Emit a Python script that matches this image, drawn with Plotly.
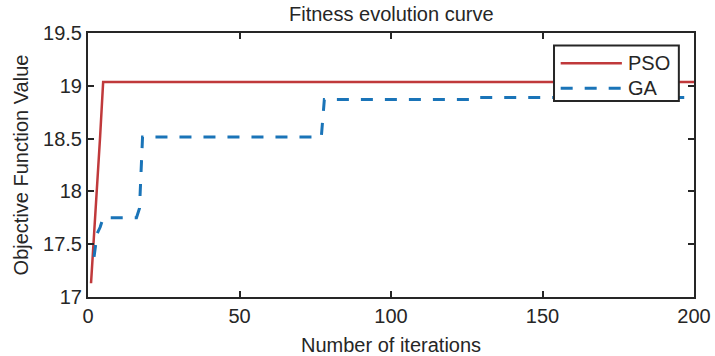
import plotly.graph_objects as go

# PSO fitness per iteration (breakpoints; constant afterwards)
pso_x = [1, 2, 3, 4, 5, 200]
pso_y = [17.13, 17.57, 18.02, 18.52, 19.035, 19.035]

# GA fitness per iteration (step-wise)
ga_x = [2, 3, 4, 5, 16, 17, 18, 77, 78, 128, 129, 200]
ga_y = [17.38, 17.6, 17.66, 17.75, 17.75, 17.84, 18.515, 18.515, 18.87, 18.87, 18.89, 18.89]

series_names = ["PSO", "GA"]
x_ticks = [0, 50, 100, 150, 200]
y_ticks = [17, 17.5, 18, 18.5, 19, 19.5]
y_labels = ["17", "17.5", "18", "18.5", "19", "19.5"]

font = "Liberation Sans, Arial, sans-serif"
ink = "#262626"
pso_color = "#C0393B"
ga_color = "#1A74B8"
ga_dash = "12px,12px"

fig = go.Figure()
fig.add_trace(go.Scatter(x=pso_x, y=pso_y, mode="lines", name=series_names[0],
                         line=dict(color=pso_color, width=2.5), showlegend=False))
fig.add_trace(go.Scatter(x=ga_x, y=ga_y, mode="lines", name=series_names[1],
                         line=dict(color=ga_color, width=3, dash=ga_dash),
                         showlegend=False))

axis_common = dict(showline=True, linecolor=ink, linewidth=2, mirror="ticks",
                   ticks="inside", ticklen=6, tickwidth=2, tickcolor=ink,
                   showgrid=False, zeroline=False,
                   tickfont=dict(family=font, size=20, color=ink))

# legend box (drawn manually to mimic MATLAB's legend)
lx0, lx1, ly0, ly1 = 0.769, 0.975, 0.742, 0.953
row_y = [0.885, 0.791]
shapes = [dict(type="rect", xref="paper", yref="paper", x0=lx0, x1=lx1, y0=ly0, y1=ly1,
               line=dict(color=ink, width=2), fillcolor="white", layer="above")]
annotations = [
    dict(text="Fitness evolution curve", xref="paper", yref="paper",
         x=0.5, y=1, xanchor="center", yanchor="bottom", yshift=6,
         showarrow=False, font=dict(family=font, size=20, color=ink)),
    dict(text="Number of iterations", xref="paper", yref="paper",
         x=0.5, y=0, xanchor="center", yanchor="top", yshift=-35,
         showarrow=False, font=dict(family=font, size=20, color=ink)),
]
styles = [dict(color=pso_color, width=2.5), dict(color=ga_color, width=3, dash=ga_dash)]
for name, yy, st in zip(series_names, row_y, styles):
    shapes.append(dict(type="line", xref="paper", yref="paper", x0=0.780, x1=0.881,
                       y0=yy, y1=yy, line=st, layer="above"))
    annotations.append(dict(text=name, xref="paper", yref="paper", x=0.887, y=yy,
                            xanchor="left", yanchor="middle", showarrow=False,
                            font=dict(family=font, size=20, color=ink)))

fig.update_layout(
    width=715, height=356,
    margin=dict(l=88, r=21, t=33, b=59, autoexpand=False),
    paper_bgcolor="white", plot_bgcolor="white",
    xaxis=dict(range=[0, 200], tickvals=x_ticks, **axis_common),
    yaxis=dict(range=[17, 19.5], tickvals=y_ticks, ticktext=y_labels,
               title=dict(text="Objective Function Value", standoff=9,
                          font=dict(family=font, size=20, color=ink)),
               **axis_common),
    shapes=shapes,
    annotations=annotations,
    showlegend=False,
)

fig.write_html("out.html")
